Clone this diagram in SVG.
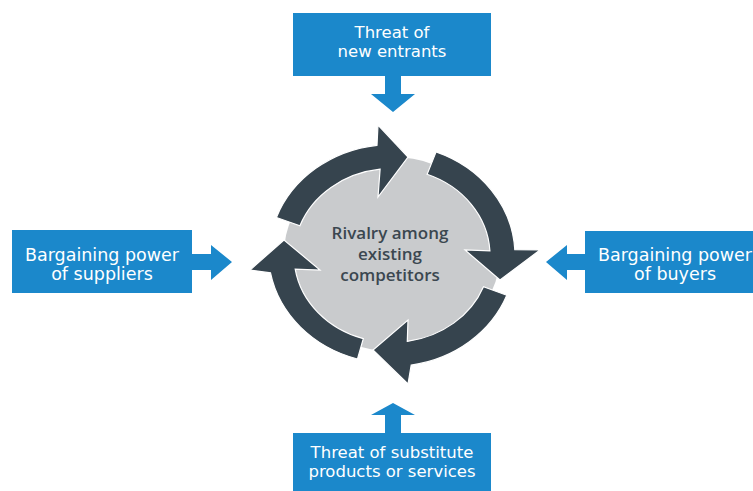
<svg xmlns="http://www.w3.org/2000/svg" width="753" height="491" viewBox="0 0 753 491">
<style>
.box{fill:#1b88cb}
.btxt{fill:#ffffff;font-family:"DejaVu Sans","Liberation Sans",sans-serif;font-size:16.5px;text-anchor:middle}
.side{font-size:17.5px}
.ctxt{fill:#3b4750;font-family:"Open Sans","DejaVu Sans",sans-serif;font-weight:600;font-size:17px;text-anchor:middle}
.ring{fill:#36444e;stroke:#ffffff;stroke-width:1.2;stroke-linejoin:miter}
.barrow{fill:#1b88cb}
</style>
<rect width="753" height="491" fill="#ffffff"/>
<g id="rivalry">
  <ellipse cx="392" cy="254" rx="108" ry="97" fill="#c9cbcd"/>
  <path class="ring" d="M276.4,217.5 A123,111 0 0 1 377.0,145.3 L378,125 L408,157 L378,197 L380.1,169.2 A98,87 0 0 0 299.9,225.7 Z"/>
  <path class="ring" d="M436.1,151.9 A123,111 0 0 1 514.8,249.7 L540,250 L500,280 L465,250 L489.9,250.9 A98,87 0 0 0 427.1,174.3 Z"/>
  <path class="ring" d="M506.8,295.3 A123,111 0 0 1 411.2,365.1 L408,384 L373,350 L408,320 L407.3,341.4 A98,87 0 0 0 483.5,286.7 Z"/>
  <path class="ring" d="M357.5,359 A123,111 0 0 1 270.5,272.9 L250,270 L284,240 L320,270 L295.2,269.1 A98,87 0 0 0 363.3,338.7 Z"/>
  <text class="ctxt" x="390" y="239">Rivalry among</text>
  <text class="ctxt" x="390" y="260">existing</text>
  <text class="ctxt" x="390" y="281">competitors</text>
</g>
<g id="new-entrants">
  <rect class="box" x="293" y="13" width="198" height="63"/>
  <text class="btxt" x="392" y="38">Threat of</text>
  <text class="btxt" x="392" y="57">new entrants</text>
</g>
<g id="suppliers">
  <rect class="box" x="12" y="230" width="180" height="63"/>
  <text class="btxt side" x="102" y="261">Bargaining power</text>
  <text class="btxt side" x="102" y="280">of suppliers</text>
</g>
<g id="buyers">
  <rect class="box" x="585" y="231" width="180" height="62"/>
  <text class="btxt side" x="675" y="261">Bargaining power</text>
  <text class="btxt side" x="675" y="280">of buyers</text>
</g>
<g id="substitutes">
  <rect class="box" x="293" y="433" width="198" height="60"/>
  <text class="btxt" x="392" y="458">Threat of substitute</text>
  <text class="btxt" x="392" y="477">products or services</text>
</g>
<g id="connectors">
  <path class="barrow" d="M385,76 H401 V94 H415 L393,112 L371,94 H385 Z"/>
  <path class="barrow" d="M385,433 H401 V415 H415 L393,403 L371,415 H385 Z"/>
  <path class="barrow" d="M192,254 H211 V245 L232,262 L211,280 V270 H192 Z"/>
  <path class="barrow" d="M585,254 H567 V245 L546,262 L567,280 V270 H585 Z"/>
</g>
</svg>
